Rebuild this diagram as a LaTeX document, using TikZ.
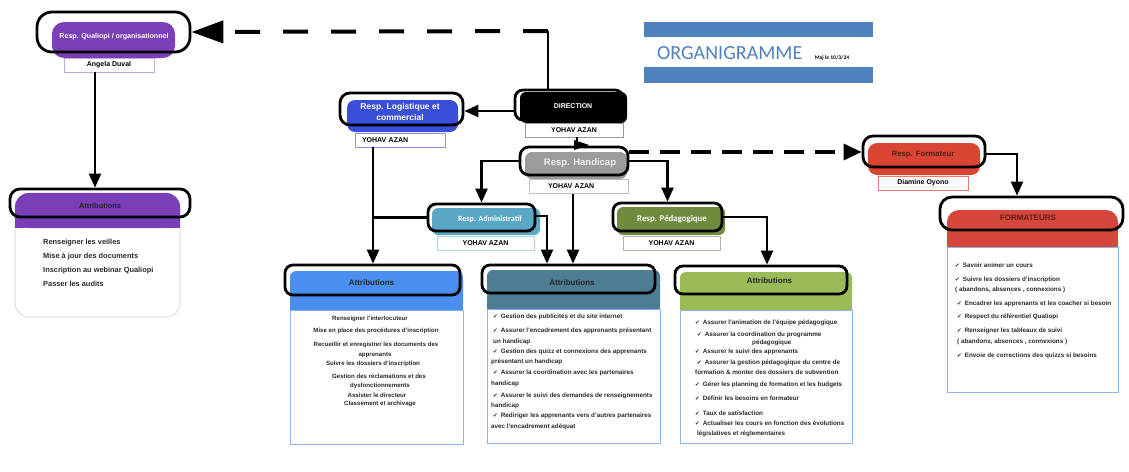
\documentclass[tikz,border=0pt]{standalone}
\usepackage{fontspec}
\setmainfont{Liberation Sans}
\newfontfamily\carl{Carlito}
\newfontfamily\djv{DejaVu Sans}
\usetikzlibrary{arrows.meta,calc}
\definecolor{qpurple}{HTML}{7A3EB6}
\definecolor{lblue}{HTML}{3A4FD7}
\definecolor{hgray}{HTML}{9B9B9B}
\definecolor{admblue}{HTML}{5BA8C6}
\definecolor{pedgreen}{HTML}{6F8C3E}
\definecolor{fred}{HTML}{D94433}
\definecolor{fdark}{HTML}{5A1E14}
\definecolor{cardA}{HTML}{4A8FEF}
\definecolor{cardB}{HTML}{4D7D93}
\definecolor{cardC}{HTML}{9BBB59}
\definecolor{cardF}{HTML}{D5473A}
\definecolor{titleblue}{HTML}{4F81BD}
\definecolor{bodyline}{HTML}{8AB6EA}
\definecolor{itemtxt}{HTML}{2A2A2A}
\newcommand\ck{{\djv\fontsize{5.6}{6}\selectfont ✔}\hspace{3pt}}
\begin{document}
\begin{tikzpicture}[x=1pt,y=-1pt,
  outl/.style={draw=black, line width=2.8pt, rounded corners=9pt, inner sep=0pt},
  nbox/.style={draw, line width=0.8pt, fill=white, inner sep=0pt, minimum height=14pt, font=\bfseries\fontsize{7}{8}\selectfont, text=black},
  rtitle/.style={font=\bfseries\fontsize{8.5}{10}\selectfont, text=white, inner sep=0pt, align=center},
  ctitle/.style={font=\bfseries\fontsize{8}{9}\selectfont, text=black!85, inner sep=0pt},
  itm/.style={font=\bfseries\fontsize{6.3}{7}\selectfont, text=itemtxt, inner sep=0pt},
  itmc/.style={itm, anchor=base},
  itml/.style={itm, anchor=base west},
  conn/.style={line width=2.4pt, -{Triangle[length=14pt,width=12pt]}},
  plain/.style={line width=2.4pt},
  dconn/.style={line width=4pt, dash pattern=on 25pt off 23pt, -{Triangle[length=32pt,width=22pt]}},
  dconnb/.style={line width=3.5pt, dash pattern=on 20pt off 11pt, -{Triangle[length=18pt,width=16pt]}}
]
\fill[white] (0,0) rectangle (1129,471);
\useasboundingbox (0,0) rectangle (1129,471);

% ---------- title ----------
\fill[titleblue] (644,22) rectangle (873,37);
\fill[titleblue] (644,67) rectangle (873,83);
\node[font=\carl\fontsize{20}{22}\selectfont, text=titleblue, anchor=west, inner sep=0pt] (org) at (657,53) {ORGANIGRAMME};
\node[font=\carl\bfseries\fontsize{5.5}{6}\selectfont, inner sep=0pt] (maj) at (832,58) {Maj le 10/3/24};

% ---------- Qualiopi ----------
\fill[qpurple, rounded corners=12pt] (52,22) rectangle (175,58);
\node[outl, minimum width=153pt, minimum height=40pt, rounded corners=15pt] (q) at (113.5,32) {};
\node[rtitle, font=\bfseries\fontsize{7.1}{8}\selectfont] (q-t) at (114,37) {Resp. Qualiopi / organisationnel};
\node[nbox, draw=qpurple!45, minimum width=90pt] (qn) at (109,65) {Angela Duval};

% ---------- Direction ----------
\fill[black, rounded corners=6pt] (520,92) rectangle (627,123);
\node[outl, minimum width=108pt, minimum height=30pt, rounded corners=8pt] (d) at (569,105) {};
\node[rtitle, font=\bfseries\fontsize{7}{8}\selectfont] (d-t) at (573,106) {DIRECTION};
\node[nbox, draw=black!40, minimum width=98pt] (dn) at (574,130) {YOHAV AZAN};

% ---------- Logistique ----------
\fill[lblue, rounded corners=8pt] (347,100) rectangle (458,132);
\node[outl, minimum width=123pt, minimum height=32pt, rounded corners=10pt] (lo) at (401.5,109) {};
\node[rtitle, font=\bfseries\fontsize{8.5}{11}\selectfont] (lo-t) at (400,111.5) {Resp. Logistique et\\commercial};
\node[nbox, draw=lblue!60, text width=76pt, inner xsep=7pt, align=left] (ln) at (400,140) {YOHAV AZAN};

% ---------- Handicap ----------
\fill[hgray, rounded corners=7pt] (525,152) rectangle (627,179);
\node[outl, minimum width=108pt, minimum height=28pt] (hk) at (574,161) {};
\node[rtitle, text=black!6, font=\bfseries\fontsize{9.5}{11}\selectfont] (hk-t) at (580,163) {Resp. Handicap};
\node[nbox, draw=black!25, text width=61pt, inner xsep=19pt, align=left] (hn) at (578.5,186.5) {YOHAV AZAN};

% ---------- Formateur ----------
\fill[fred, rounded corners=9pt] (868,143) rectangle (980,175);
\node[outl, minimum width=122pt, minimum height=31pt, rounded corners=10pt] (fo) at (924,151.5) {};
\node[rtitle, text=fdark, font=\bfseries\fontsize{7.8}{9}\selectfont] (fo-t) at (923,155) {Resp. Formateur};
\node[nbox, draw=fred!70, minimum width=90pt] (fn) at (923,183) {Diamine Oyono};

% ---------- Administratif ----------
\fill[admblue, rounded corners=6pt] (432,208) rectangle (540,235);
\node[outl, minimum width=107pt, minimum height=27pt, rounded corners=8pt] (ad) at (481.5,217.5) {};
\node[rtitle, font=\carl\bfseries\fontsize{8}{9}\selectfont] (ad-t) at (490,219) {Resp. Administratif};
\node[nbox, draw=admblue!50, minimum width=97pt] (an) at (485.5,243) {YOHAV AZAN};

% ---------- Pedagogique ----------
\fill[pedgreen, rounded corners=6pt] (617,207) rectangle (725,235);
\node[outl, minimum width=109pt, minimum height=28pt, rounded corners=8pt] (pe) at (667.5,217) {};
\node[rtitle, font=\carl\bfseries\fontsize{8.8}{10}\selectfont] (pe-t) at (672,219) {Resp. Pédagogique};
\node[nbox, draw=pedgreen!45!gray!60, minimum width=97pt] (pn) at (671.5,243) {YOHAV AZAN};

% ---------- Left card ----------
\draw[black!20, line width=0.6pt, fill=white, rounded corners=14pt] (15,193) rectangle (180,317);
\fill[qpurple, rounded corners=14pt] (15,193) rectangle (180,228);
\fill[qpurple] (15,212) rectangle (180,228);
\node[outl, minimum width=180pt, minimum height=28pt, rounded corners=10pt] (la) at (100,203) {};
\node[ctitle, font=\bfseries\fontsize{7.4}{9}\selectfont] (la-t) at (100,206) {Attributions};
\foreach \yy/\txt [count=\i] in {242/{Renseigner les veilles}, 256/{Mise à jour des documents}, 270/{Inscription au webinar Qualiopi}, 284/{Passer les audits}}
  \node[itml, font=\bfseries\fontsize{7.4}{8}\selectfont] (L\i) at (43,\yy+2.4) {\txt};

% ---------- Card A ----------
\draw[bodyline, line width=0.9pt, fill=white] (290,310) rectangle (463,444);
\fill[cardA, rounded corners=6pt] (290,271) rectangle (463,310);
\fill[cardA] (290,295) rectangle (463,310);
\node[outl, minimum width=175pt, minimum height=30pt, rounded corners=8pt] (ca) at (372.5,280) {};
\node[ctitle] (ca-t) at (371.5,283) {Attributions};
\foreach \yy/\xx/\txt [count=\i] in {319/370/{Renseigner l'interlocuteur}, 331/376/{Mise en place des procédures d'inscription}, 345/376/{Recueillir et enregistrer les documents des}, 355/375/{apprenants}, 364/373/{Suivre les dossiers d'inscription}, 377/379/{Gestion des réclamations et des}, 386/380/{dysfonctionnements}, 396/377/{Assister le directeur}, 404/380/{Classement et archivage}}
  \node[itmc, font=\bfseries\fontsize{6.1}{7}\selectfont] (A\i) at (\xx,\yy+1.9) {\txt};

% ---------- Card B ----------
\draw[bodyline, line width=0.9pt, fill=white] (487,309) rectangle (660,443);
\fill[cardB, rounded corners=6pt] (487,270) rectangle (660,309);
\fill[cardB] (487,290) rectangle (660,309);
\node[outl, minimum width=173pt, minimum height=28pt, rounded corners=8pt] (cb) at (568.5,279) {};
\node[ctitle] (cb-t) at (572,283) {Attributions};
\foreach \yy/\xx/\txt [count=\i] in {317/493/{\ck Gestion des publicités et du site internet}, 331/493/{\ck Assurer l'encadrement des apprenants présentant}, 342/493/{un handicap}, 352/493/{\ck Gestion des quizz et connexions des apprenants}, 362/491/{présentant un handicap}, 373/493/{\ck Assurer la coordination avec les partenaires}, 384/491/{handicap}, 396/493/{\ck Assurer le suivi des demandes de renseignements}, 406/491/{handicap}, 416/493/{\ck Rediriger les apprenants vers d'autres partenaires}, 427/491/{avec l'encadrement adéquat}}
  \node[itml] (B\i) at (\xx,\yy+1.9) {\txt};

% ---------- Card C ----------
\draw[bodyline, line width=0.9pt, fill=white] (680,310) rectangle (852,443);
\fill[cardC, rounded corners=6pt] (680,272) rectangle (852,310);
\fill[cardC] (680,292) rectangle (852,310);
\node[outl, minimum width=172pt, minimum height=28pt, rounded corners=8pt] (cc) at (761,280) {};
\node[ctitle] (cc-t) at (769.5,281) {Attributions};
\foreach \yy/\xx/\txt [count=\i] in {323/695/{\ck Assurer l'animation de l'équipe pédagogique}, 335/697/{\ck Assurer la coordination du programme}, 343/752/{pédagogique}, 352/695/{\ck Assurer le suivi des apprenants}, 363/697/{\ck Assurer la gestion pédagogique du centre de}, 373/695/{formation \& monter des dossiers de subvention}, 385/695/{\ck Gérer les planning de formation et les budgets}, 399/695/{\ck Définir les besoins en formateur}, 414/695/{\ck Taux de satisfaction}, 424/695/{\ck Actualiser les cours en fonction des évolutions}, 434/697/{législatives et réglementaires}}
  \node[itml] (C\i) at (\xx,\yy+1.9) {\txt};

% ---------- Card F ----------
\draw[bodyline, line width=0.9pt, fill=white] (947,247) rectangle (1118,392);
\fill[cardF, rounded corners=12pt] (947,210) rectangle (1118,247);
\fill[cardF] (947,230) rectangle (1118,247);
\node[outl, minimum width=183pt, minimum height=33pt, rounded corners=12pt] (cf) at (1031.5,213.5) {};
\node[ctitle, text=fdark] (cf-t) at (1028,218) {FORMATEURS};
\foreach \yy/\xx/\txt [count=\i] in {266/955/{\ck Savoir animer un cours}, 280/955/{\ck Suivre les dossiers d'inscription}, 290/955/{( abandons, absences , connexions )}, 304/957/{\ck Encadrer les apprenants et les coacher si besoin}, 317/957/{\ck Respect du référentiel Qualiopi}, 331/957/{\ck Renseigner les tableaux de suivi}, 342/957/{( abandons, absences , connexions )}, 356/957/{\ck Envoie de corrections des quizzs si besoins}}
  \node[itml] (F\i) at (\xx,\yy+1.9) {\txt};

% ---------- connectors ----------
\coordinate (dt) at (548,31);
\draw[plain] (d.north -| dt) -- (dt);
\draw[dconn] (dt) -- (q.east);
\draw[conn] (d.west |- 0,111) -- (lo.east |- 0,111);
\draw[plain] (dn.south -| 577,0) -- (hk.north -| 577,0);
\fill (574,140) -- (589,145) -- (574,150) -- cycle;
\draw[dconnb] (hk.east |- 0,152) -- (fo.west |- 0,152);
\draw[conn] (hk.west) -| (ad.north);
\draw[conn] (hk.east) -| (pe.north);
\draw[conn] (hn.south -| 573,0) -- (cb.north -| 573,0);
\draw[conn] (ad.east |- 0,216) -| (cb.north -| 547,0);
\coordinate (j) at (373,217.5);
\draw[conn] (ln.south -| j) -- (ca.north -| j);
\draw[plain] (ad.west) -- (j);
\draw[conn] (pe.east) -| (cc.north -| 767,0);
\draw[conn] (fo.east |- 0,154) -| (cf.north -| 1017,0);
\draw[conn] ([xshift=-14pt]qn.south) -- ([xshift=-5pt]la.north);
\end{tikzpicture}
\end{document}
